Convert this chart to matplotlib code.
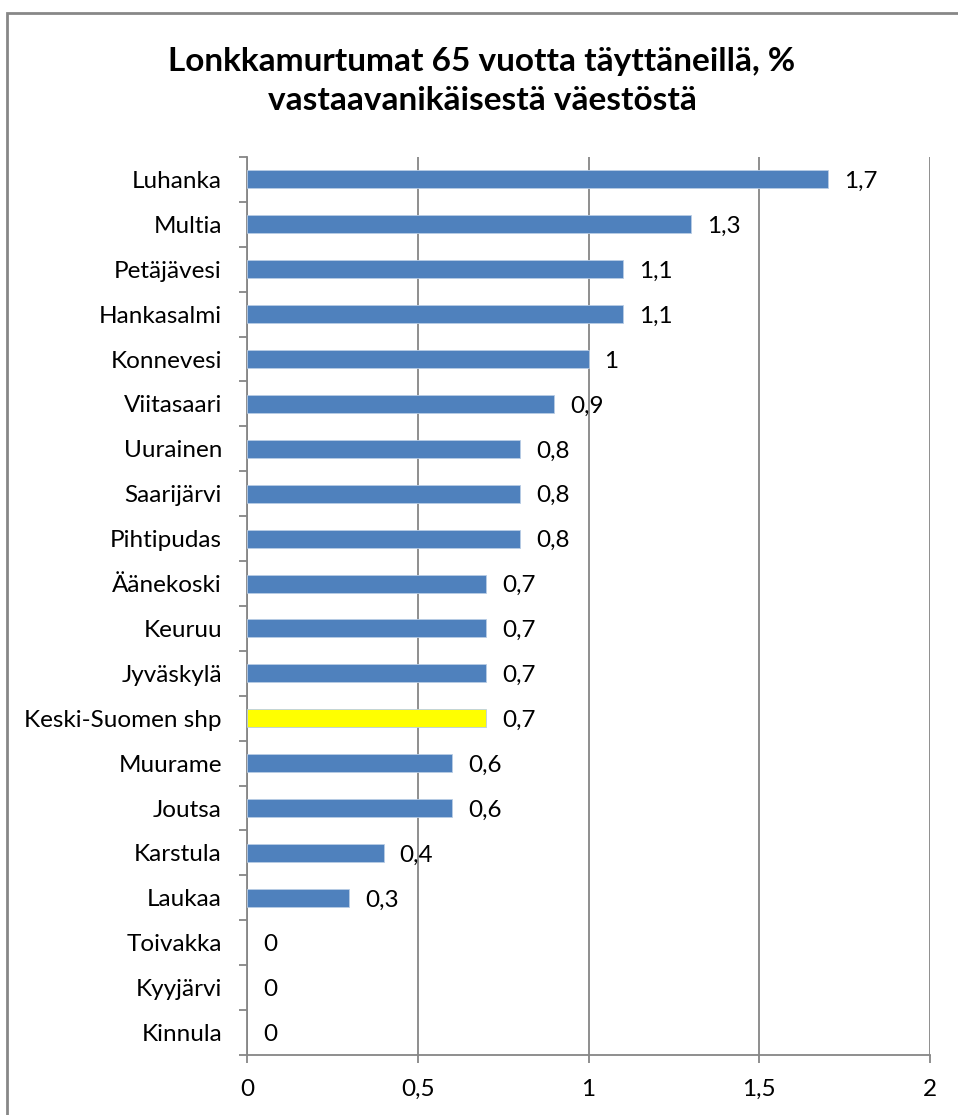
import matplotlib
matplotlib.use("Agg")
import matplotlib.pyplot as plt
from matplotlib.patches import Rectangle

plt.rcParams['font.family'] = ['Lato', 'DejaVu Sans']

categories = ["Luhanka", "Multia", "Petäjävesi", "Hankasalmi", "Konnevesi",
              "Viitasaari", "Uurainen", "Saarijärvi", "Pihtipudas", "Äänekoski",
              "Keuruu", "Jyväskylä", "Keski-Suomen shp", "Muurame", "Joutsa",
              "Karstula", "Laukaa", "Toivakka", "Kyyjärvi", "Kinnula"]
values = [1.7, 1.3, 1.1, 1.1, 1.0, 0.9, 0.8, 0.8, 0.8, 0.7,
          0.7, 0.7, 0.7, 0.6, 0.6, 0.4, 0.3, 0, 0, 0]
highlight = "Keski-Suomen shp"
xticks = [0, 0.5, 1, 1.5, 2]
title = "Lonkkamurtumat 65 vuotta täyttäneillä, %\nvastaavanikäisestä väestöstä"

def fmt(v):
    return ("%g" % v).replace(".", ",")

W, H = 958, 1115
fig = plt.figure(figsize=(W/100, H/100), dpi=100)
ax = fig.add_axes([247/W, 1-1055/H, (930-247)/W, (1055-157)/H])

n = len(categories)
ypos = list(range(n))
colors = ['#FFFF00' if c == highlight else '#4F81BD' for c in categories]
lws = [0.6 if v > 0 else 0 for v in values]
ax.barh(ypos, values, height=0.4, color=colors, edgecolor='#B9CDE5', linewidth=lws, zorder=3)
ax.set_ylim(n - 0.5, -0.5)
ax.set_xlim(0, 2)

fs = 17.5
ax.set_yticks(ypos)
ax.set_yticklabels(categories, fontsize=fs)
ax.set_yticks([i - 0.5 for i in range(n + 1)], minor=True)
ax.tick_params(axis='y', which='major', length=0, pad=18)
ax.tick_params(axis='y', which='minor', length=6, color='#868686', width=1.3)

ax.set_xticks(xticks)
ax.set_xticklabels([fmt(t) for t in xticks], fontsize=fs)
ax.tick_params(axis='x', length=6, color='#868686', width=1.3, pad=11)

ax.grid(axis='x', color='#868686', linewidth=1.3, zorder=0)
for s in ['top', 'right']:
    ax.spines[s].set_visible(False)
for s in ['left', 'bottom']:
    ax.spines[s].set_color('#868686')
    ax.spines[s].set_linewidth(1.3)

for y, v in zip(ypos, values):
    ax.annotate(fmt(v), xy=(v, y), xytext=(16, -2), textcoords='offset pixels',
                va='center', ha='left', fontsize=fs)

fig.text(482/W, 1-81/H, title, ha='center', va='center', fontsize=24, fontweight='bold',
         linespacing=1.45)

fig.patches.append(Rectangle((7/W, -0.1), 1.2, 1-13/H+0.1, transform=fig.transFigure,
                             fill=False, edgecolor='#878787', linewidth=2))

fig.savefig("out.png", dpi=100)
